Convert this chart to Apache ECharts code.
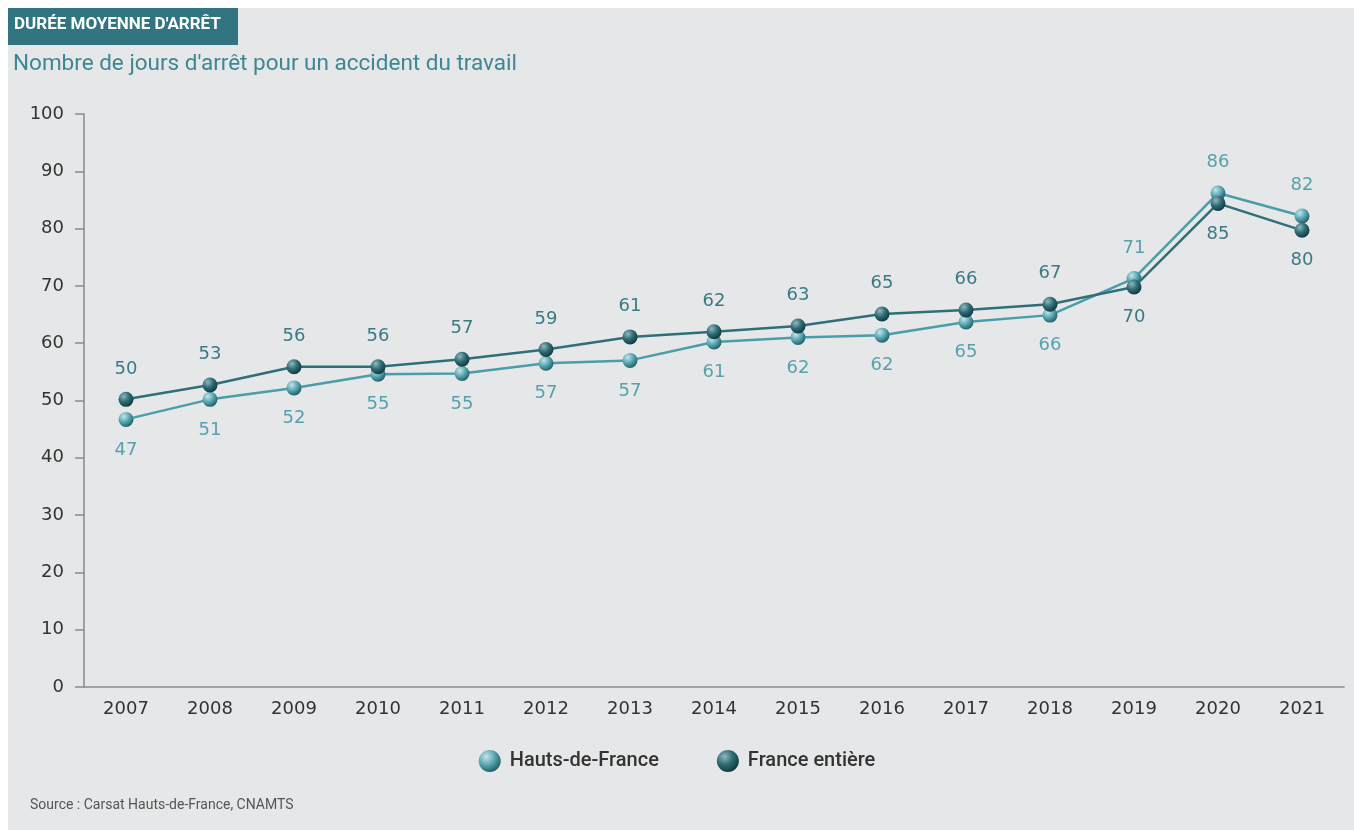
<!DOCTYPE html>
<html>
<head>
<meta charset="utf-8">
<script src="https://cdn.jsdelivr.net/npm/echarts@6/dist/echarts.min.js"></script>
<style>
  html, body { margin: 0; padding: 0; background: #fff; }
  #main { width: 1354px; height: 830px; }
</style>
</head>
<body>
<div id="main"></div>
<script>
var years = ['2007', '2008', '2009', '2010', '2011', '2012', '2013', '2014', '2015', '2016', '2017', '2018', '2019', '2020', '2021'];
// valeurs (position des points)
var hdfValues = [46.7, 50.2, 52.2, 54.6, 54.7, 56.5, 57.0, 60.2, 61.0, 61.4, 63.7, 64.9, 71.3, 86.2, 82.2];
var franceValues = [50.2, 52.7, 55.9, 55.9, 57.2, 58.9, 61.1, 62.0, 63.0, 65.1, 65.8, 66.8, 69.8, 84.4, 79.7];
// étiquettes affichées
var hdfLabels = ['47', '51', '52', '55', '55', '57', '57', '61', '62', '62', '65', '66', '71', '86', '82'];
var franceLabels = ['50', '53', '56', '56', '57', '59', '61', '62', '63', '65', '66', '67', '70', '85', '80'];
var yTicks = [0, 10, 20, 30, 40, 50, 60, 70, 80, 90, 100];

var FONT = 'Roboto, "Noto Sans", sans-serif';
var NUM_FONT = '"DejaVu Sans", sans-serif';

function sphere(light, mid, dark) {
    return new echarts.graphic.RadialGradient(0.35, 0.3, 0.75, [
        {offset: 0, color: light},
        {offset: 0.5, color: mid},
        {offset: 1, color: dark}
    ]);
}

// l'étiquette de la série la plus haute va au-dessus
function buildData(values, other, labels, color) {
    return values.map(function (v, i) {
        return {
            value: v,
            label: {
                show: true,
                position: v > other[i] ? 'top' : 'bottom',
                distance: 14,
                formatter: labels[i],
                color: color,
                fontSize: 18,
                fontFamily: NUM_FONT
            }
        };
    });
}

var chart = echarts.init(document.getElementById('main'));
chart.setOption({
    backgroundColor: '#fff',
    graphic: [
        {type: 'rect', left: 8, top: 8, shape: {width: 1346, height: 822}, style: {fill: '#e6e7e8'}, z: -10},
        {type: 'rect', left: 8, top: 8, shape: {width: 230, height: 37}, style: {fill: '#30757f'}, z: -5},
        {type: 'text', left: 14, top: 16, style: {text: "DURÉE MOYENNE D'ARRÊT", fill: '#fff', font: 'bold 17px ' + FONT}},
        {type: 'text', left: 13, top: 53, style: {text: "Nombre de jours d'arrêt pour un accident du travail", fill: '#3d8793', font: '22.5px ' + FONT}},
        {type: 'text', left: 30, top: 798, style: {text: 'Source : Carsat Hauts-de-France, CNAMTS', fill: '#555', font: '14px ' + FONT}}
    ],
    grid: {left: 84, right: 10, top: 114, bottom: 143, containLabel: false},
    legend: {
        top: 745,
        left: 'center',
        itemWidth: 22,
        itemHeight: 22,
        itemGap: 58,
        icon: 'circle',
        textStyle: {fontSize: 20, color: '#333', fontFamily: FONT, fontWeight: 500, padding: [0, 0, 0, 4]},
        data: ['Hauts-de-France', 'France entière']
    },
    xAxis: [{
        type: 'category',
        data: years,
        boundaryGap: true,
        axisLine: {lineStyle: {color: '#8a8a8a', width: 1.5}},
        axisTick: {length: 5, lineStyle: {color: '#8a8a8a', width: 1.5}},
        axisLabel: {color: '#333', fontSize: 18, fontFamily: NUM_FONT, margin: 13}
    }, {
        type: 'category',
        data: years,
        position: 'bottom',
        boundaryGap: true,
        axisLine: {show: false},
        axisTick: {inside: true, length: 5, lineStyle: {color: '#8a8a8a', width: 1.5}},
        axisLabel: {show: false}
    }],
    yAxis: {
        type: 'value',
        min: 0,
        max: 100,
        interval: 10,
        splitLine: {show: false},
        axisLine: {show: true, lineStyle: {color: '#8a8a8a', width: 1.5}},
        axisTick: {show: true, length: 9, lineStyle: {color: '#8a8a8a', width: 1.5}},
        axisLabel: {
            color: '#333', fontSize: 18, fontFamily: NUM_FONT, margin: 20,
            formatter: function (v) { return yTicks.indexOf(v) >= 0 ? String(v) : ''; }
        }
    },
    series: [{
        name: 'Hauts-de-France',
        type: 'line',
        data: buildData(hdfValues, franceValues, hdfLabels, '#55a2ae'),
        symbol: 'circle',
        symbolSize: 15,
        lineStyle: {color: '#4a9eaa', width: 2.5},
        itemStyle: {color: sphere('#c3e6eb', '#5aa8b3', '#1f5a62')},
        z: 3
    }, {
        name: 'France entière',
        type: 'line',
        data: buildData(franceValues, hdfValues, franceLabels, '#3a7a84'),
        symbol: 'circle',
        symbolSize: 15,
        lineStyle: {color: '#2e6f79', width: 2.5},
        itemStyle: {color: sphere('#8fb8be', '#2f6c75', '#0f363c')},
        z: 4
    }]
});
</script>
</body>
</html>
